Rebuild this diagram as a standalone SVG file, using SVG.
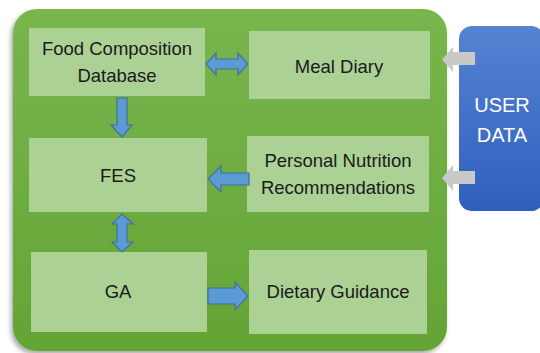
<svg xmlns="http://www.w3.org/2000/svg" width="540" height="353" viewBox="0 0 540 353">
<defs>
<linearGradient id="gGreen" x1="0" y1="0" x2="0" y2="1">
<stop offset="0" stop-color="#78b64e"/>
<stop offset="1" stop-color="#64a435"/>
</linearGradient>
<linearGradient id="gBlue" x1="0" y1="0" x2="0" y2="1">
<stop offset="0" stop-color="#5583d2"/>
<stop offset="1" stop-color="#2f5fbd"/>
</linearGradient>
<filter id="sh" x="-10%" y="-10%" width="120%" height="120%">
<feGaussianBlur in="SourceAlpha" stdDeviation="2.5"/>
<feOffset dx="-2" dy="3"/>
<feComponentTransfer><feFuncA type="linear" slope="0.35"/></feComponentTransfer>
<feMerge><feMergeNode/><feMergeNode in="SourceGraphic"/></feMerge>
</filter>
</defs>
<style>
.box{fill:#acd195;}
.lbl{font-family:"Liberation Sans",Arial,sans-serif;font-size:18.5px;fill:#1a1a1a;text-anchor:middle;}
.ud{font-family:"Liberation Sans",Arial,sans-serif;font-size:20px;fill:#ffffff;text-anchor:middle;}
.ba{fill:#5b9bd5;stroke:#41719c;stroke-width:1.2;}
.ga{fill:#c9c9c9;}
</style>
<rect x="0" y="0" width="540" height="353" fill="#ffffff"/>
<g id="container">
<rect x="13" y="9" width="434" height="342" rx="24" fill="url(#gGreen)" filter="url(#sh)"/>
</g>
<g id="user-data">
<rect x="459" y="26" width="85" height="185" rx="13" fill="url(#gBlue)"/>
<text class="ud" x="502" y="112">USER</text>
<text class="ud" x="502" y="142">DATA</text>
</g>
<g id="food-db">
<rect class="box" x="29" y="28" width="176" height="68"/>
<text class="lbl" x="117" y="55">Food Composition</text>
<text class="lbl" x="117" y="82">Database</text>
</g>
<g id="meal-diary">
<rect class="box" x="249" y="31" width="181" height="68"/>
<text class="lbl" x="339" y="73">Meal Diary</text>
</g>
<g id="fes">
<rect class="box" x="29" y="138" width="178" height="74"/>
<text class="lbl" x="118" y="182">FES</text>
</g>
<g id="pnr">
<rect class="box" x="247" y="136" width="182" height="76"/>
<text class="lbl" x="338" y="167">Personal Nutrition</text>
<text class="lbl" x="338" y="194">Recommendations</text>
</g>
<g id="ga">
<rect class="box" x="31" y="252" width="176" height="80"/>
<text class="lbl" x="118" y="298">GA</text>
</g>
<g id="dietary">
<rect class="box" x="249" y="250" width="178" height="84"/>
<text class="lbl" x="338" y="298">Dietary Guidance</text>
</g>
<g id="connectors">
<!-- double horizontal: food db <-> meal diary -->
<path class="ba" d="M206,64 L216,53 L216,59 L238,59 L238,53 L248,64 L238,75 L238,69 L216,69 L216,75 Z"/>
<!-- down: food db -> FES -->
<path class="ba" d="M117,98 L127,98 L127,125 L132,125 L122,137 L111,125 L117,125 Z"/>
<!-- left: PNR -> FES -->
<path class="ba" d="M249,173 L249,185 L221,185 L221,192 L208,179 L221,166 L221,173 Z"/>
<!-- double vertical: FES <-> GA -->
<path class="ba" d="M122,214 L133,224 L127,224 L127,242 L133,242 L122,252 L112,242 L117,242 L117,224 L112,224 Z"/>
<!-- right: GA -> dietary -->
<path class="ba" d="M208,288 L235,288 L235,282 L248,296 L235,310 L235,304 L208,304 Z"/>
<!-- gray inputs from user data -->
<path class="ga" d="M475,52 L475,65 L453,65 L453,72 L442,59.5 L453,47 L453,52 Z"/>
<path class="ga" d="M475,171 L475,184 L453,184 L453,191 L442,178 L453,165 L453,171 Z"/>
</g>
</svg>
